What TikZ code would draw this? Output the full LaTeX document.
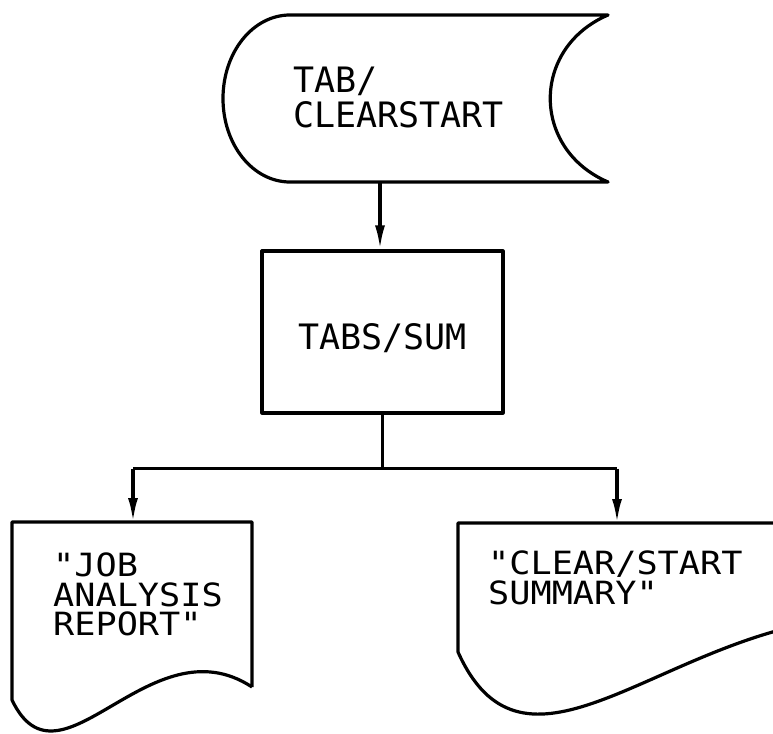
\documentclass[tikz,border=0pt]{standalone}
\usepackage{fontspec}
\setmonofont{DejaVu Sans Mono}
\newfontfamily\docfont{DejaVu Sans Mono}[FakeStretch=1.1]
\usetikzlibrary{arrows.meta, calc, positioning}

\begin{document}
\begin{tikzpicture}[% one unit = one pixel of the scan, y pointing down
           x = 1pt, y = -1pt,
           > = {Latex[length=24pt, width=10pt]},
line/.style  = {line width=3.2pt, line join=round},
flow/.style  = {line, ->},
proc/.style  = {line, draw, rectangle, inner sep=0pt,
                minimum width=241pt, minimum height=162pt,
                text height=34pt, text depth=0pt,
                font=\fontsize{35}{35}\selectfont\ttfamily},
txt/.style   = {anchor=north west, inner sep=0pt, align=left,
                font=\fontsize{35}{35}\selectfont\ttfamily},
doctxt/.style = {txt, font=\fontsize{32}{29.5}\selectfont\docfont}
                    ]
	\useasboundingbox (0,0) rectangle (773,733);
	\clip (0,0) rectangle (773,733);

	% stored data symbol
	\draw[line] (290,15) -- (608,15)
	      .. controls (531,48) and (531,149) .. (608,182) -- (290,182)
	      .. controls (253,182) and (223,145) .. (223,98.5)
	      .. controls (223,52) and (253,15) .. cycle;
	\node[txt] (tab) at (293,67) {TAB/\\CLEARSTART};
	\coordinate (tab out) at (380,182);

	% process box
	\node[proc] (sum) at (382.5,332) {TABS/SUM};

	% documents
	\draw[line] (252,687) -- (252,522) -- (12,522) -- (12,700)
	      .. controls (60,800) and (150,620) .. (252,687);
	\node[doctxt] (job) at (53,553) {"JOB\\ANALYSIS\\REPORT"};
	\coordinate (job in) at (133,522);

	\draw[line] (800,625) -- (800,523) -- (458,523) -- (458,652)
	      .. controls (520,790) and (640,660) .. (800,625);
	\node[doctxt] (clr) at (488,551) {"CLEAR/START\\SUMMARY"};
	\coordinate (clr in) at (617,523);

	% connectors
	\draw[flow] (tab out) -- (tab out |- sum.north);
	\draw[line] (sum.south) -- ++(0,54) coordinate (split);
	\draw[line] (job in |- split) -- (clr in |- split);
	\draw[flow] (job in |- split) -- (job in);
	\draw[flow] (clr in |- split) -- (clr in);
\end{tikzpicture}
\end{document}
